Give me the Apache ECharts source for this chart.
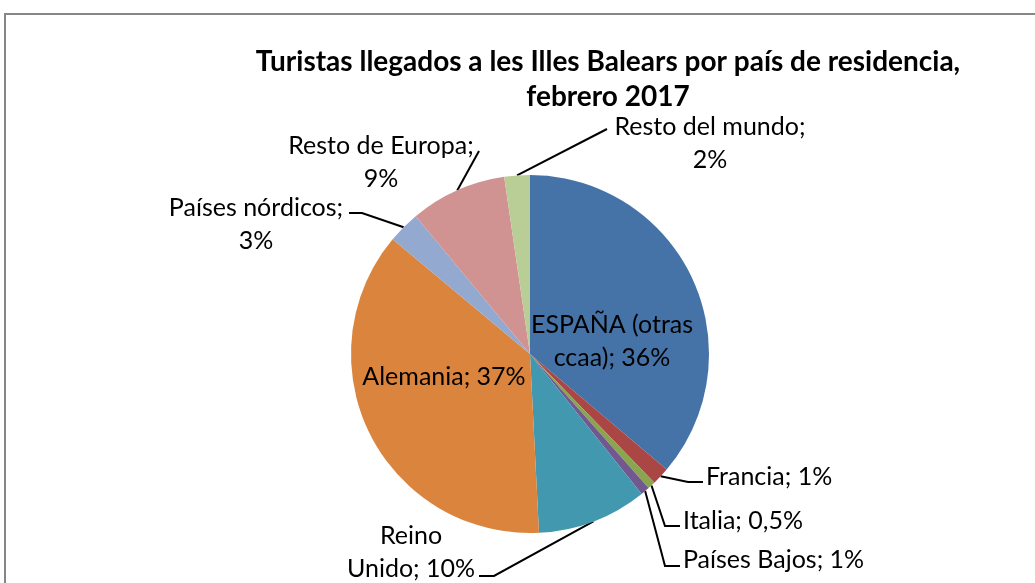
<!DOCTYPE html>
<html>
<head>
<meta charset="utf-8">
<script src="https://cdn.jsdelivr.net/npm/echarts@6/dist/echarts.min.js"></script>
<style>
  html, body { margin: 0; padding: 0; background: #fff; }
  #chart { width: 1035px; height: 583px; }
</style>
</head>
<body>
<div id="chart"></div>
<script>
// data (percent of tourists, feb 2017)
var categories = ['ESPAÑA (otras ccaa)', 'Francia', 'Italia', 'Países Bajos', 'Reino Unido',
  'Alemania', 'Países nórdicos', 'Resto de Europa', 'Resto del mundo'];
var values = [36.1, 1.6, 0.7, 0.8, 9.9, 36.8, 2.9, 8.7, 2.3];
var labelTexts = ['ESPAÑA (otras\nccaa); 36%', 'Francia; 1%', 'Italia; 0,5%', 'Países Bajos; 1%',
  'Reino\nUnido; 10%', 'Alemania; 37%', 'Países nórdicos;\n3%', 'Resto de Europa;\n9%', 'Resto del mundo;\n2%'];
var colors = ['#4572A7', '#AA4643', '#89A54E', '#71588F', '#4198AF', '#DB843D', '#93A9CF', '#D19392', '#B9CD96'];

// where each label sits, and where its leader line ends
var labelBox = [
  { x: 612, y: 341, align: 'center' },
  { x: 706, y: 477, align: 'left', end: [703, 482], elbow: 15 },
  { x: 683, y: 521, align: 'left', end: [680, 526], elbow: 15 },
  { x: 683, y: 560, align: 'left', end: [680, 566], elbow: 15 },
  { x: 411, y: 552, align: 'center', end: [479, 576], elbow: -15 },
  { x: 444, y: 377, align: 'center' },
  { x: 256, y: 224, align: 'center', end: [349, 213], elbow: -13 },
  { x: 381, y: 162, align: 'center', end: [479, 151], elbow: 0 },
  { x: 710, y: 143, align: 'center', end: [607, 129], elbow: 0 }
];

var font = 'Lato, "Open Sans", sans-serif';

var pieData = categories.map(function (c, i) {
  var item = { name: c, value: values[i], itemStyle: { color: colors[i] } };
  if (!labelBox[i].end) {
    item.label = { position: 'inside' };
    item.labelLine = { show: false };
  }
  return item;
});

var chart = echarts.init(document.getElementById('chart'));
chart.setOption({
  backgroundColor: '#fff',
  animation: false,
  title: {
    text: 'Turistas llegados a les Illes Balears por país de residencia,\nfebrero 2017',
    left: 603,
    top: 39,
    textAlign: 'center',
    textStyle: { fontFamily: font, fontWeight: 'bold', fontSize: 28, lineHeight: 35, color: '#000' }
  },
  graphic: [{
    type: 'rect',
    shape: { x: 5, y: 14, width: 1100, height: 700 },
    style: { fill: 'none', stroke: '#868686', lineWidth: 2 },
    silent: true
  }],
  series: [{
    type: 'pie',
    center: [530, 354],
    radius: 179,
    startAngle: 90,
    clockwise: true,
    avoidLabelOverlap: false,
    data: pieData,
    itemStyle: { borderWidth: 0 },
    label: {
      show: true,
      position: 'outside',
      color: '#000',
      fontFamily: font,
      fontSize: 25,
      lineHeight: 33,
      formatter: function (p) { return labelTexts[p.dataIndex]; }
    },
    labelLine: {
      show: true,
      length: 10,
      length2: 10,
      lineStyle: { color: '#000', width: 2 }
    },
    labelLayout: function (p) {
      var L = labelBox[p.dataIndex];
      var out = { x: L.x, y: L.y, align: L.align, verticalAlign: 'middle' };
      if (L.end && p.labelLinePoints) {
        var a = p.labelLinePoints[0];
        out.labelLinePoints = [[a[0], a[1]], [L.end[0] - L.elbow, L.end[1]], [L.end[0], L.end[1]]];
      }
      return out;
    },
    emphasis: { disabled: true }
  }]
});
</script>
</body>
</html>
